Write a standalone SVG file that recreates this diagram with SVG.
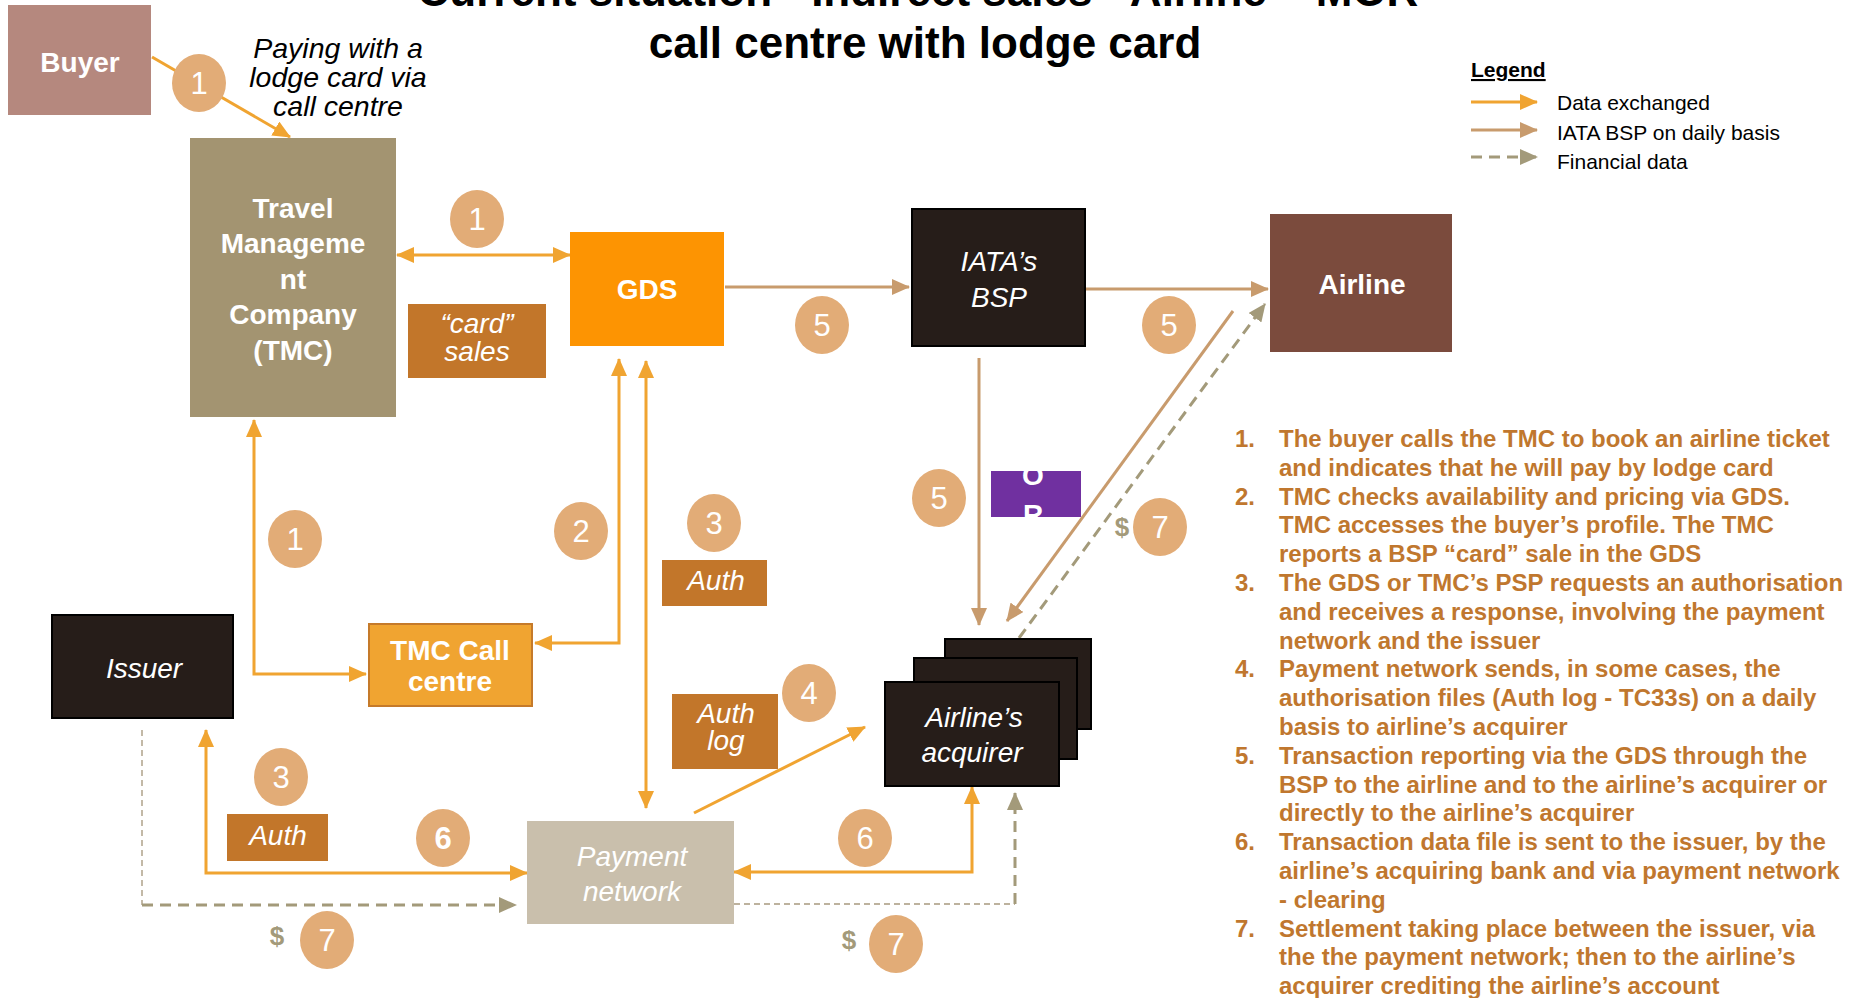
<svg xmlns="http://www.w3.org/2000/svg" width="1853" height="998" viewBox="0 0 1853 998">
<defs>
<style>
text{font-family:"Liberation Sans",Arial,sans-serif}
.wb{fill:#fff;font-weight:bold;font-size:28px;text-anchor:middle}
.wi{fill:#fff;font-style:italic;font-size:28px;text-anchor:middle}
.title{fill:#000;font-weight:bold;font-size:44px;text-anchor:middle}
.num{fill:#fff;font-size:31px;text-anchor:middle}
.circ{fill:#E2AC77}
.dol{fill:#A39A7A;font-weight:bold;font-size:26px;text-anchor:middle}
.o{fill:none;stroke:#F0A431;stroke-width:3}
.t{fill:none;stroke:#C89B6D;stroke-width:3}
.d{fill:none;stroke:#A39A7A;stroke-width:3;stroke-dasharray:11 7}
.dt{fill:none;stroke:#BDB29E;stroke-width:1.8;stroke-dasharray:6 4}
.lab{fill:#C2762A}
.leg{fill:#000;font-size:21px}
.list{fill:#C0772E;font-weight:bold;font-size:24px}
</style>
<marker id="aO" viewBox="0 0 18 16" refX="17" refY="8" markerWidth="18" markerHeight="16" markerUnits="userSpaceOnUse" orient="auto-start-reverse"><path d="M0,0 L18,8 L0,16 z" fill="#F0A431"/></marker>
<marker id="aT" viewBox="0 0 18 16" refX="17" refY="8" markerWidth="18" markerHeight="16" markerUnits="userSpaceOnUse" orient="auto-start-reverse"><path d="M0,0 L18,8 L0,16 z" fill="#C89B6D"/></marker>
<marker id="aD" viewBox="0 0 18 16" refX="17" refY="8" markerWidth="18" markerHeight="16" markerUnits="userSpaceOnUse" orient="auto-start-reverse"><path d="M0,0 L18,8 L0,16 z" fill="#A39A7A"/></marker>
<clipPath id="clipP"><rect x="991" y="471" width="90" height="46"/></clipPath>
</defs>
<rect width="1853" height="998" fill="#fff"/>

<g id="title">
<text class="title" x="918" y="6">Current situation - Indirect sales - Airline <tspan fill="#D9D9D9">–</tspan> MOR</text>
<text class="title" x="925" y="58">call centre with lodge card</text>
</g>

<g id="connectors">
<path class="o" d="M152,57 L290,137" marker-end="url(#aO)"/>
<path class="o" d="M397,255 L570,255" marker-start="url(#aO)" marker-end="url(#aO)"/>
<path class="t" d="M725,287 L909,287" marker-end="url(#aT)"/>
<path class="t" d="M1086,289 L1268,289" marker-end="url(#aT)"/>
<path class="t" d="M979,358 L979,625" marker-end="url(#aT)"/>
<path class="t" d="M1233,311 L1007,621" marker-end="url(#aT)"/>
<path class="d" d="M1019,638 L1265,304" marker-end="url(#aD)"/>
<path class="o" d="M254,420 L254,674 L366,674" marker-start="url(#aO)" marker-end="url(#aO)"/>
<path class="o" d="M619,359 L619,643 L535,643" marker-start="url(#aO)" marker-end="url(#aO)"/>
<path class="o" d="M646,361 L646,808" marker-start="url(#aO)" marker-end="url(#aO)"/>
<path class="o" d="M206,730 L206,873 L527,873" marker-start="url(#aO)" marker-end="url(#aO)"/>
<path class="o" d="M694,813 L865,727" marker-end="url(#aO)"/>
<path class="o" d="M972,787 L972,872 L734,872" marker-start="url(#aO)" marker-end="url(#aO)"/>
<path class="dt" d="M142,730 L142,905"/>
<path class="d" d="M142,905 L516,905" marker-end="url(#aD)"/>
<path class="dt" d="M734,904 L1015,904"/>
<path class="d" d="M1015,904 L1015,793" marker-end="url(#aD)"/>
</g>

<g id="buyer">
<rect x="8" y="5" width="143" height="110" fill="#B5887E"/>
<text class="wb" x="80" y="72">Buyer</text>
</g>
<g id="paying-note">
<text font-style="italic" font-size="28.5" text-anchor="middle" fill="#000"><tspan x="338" y="58">Paying with a</tspan><tspan x="338" y="87">lodge card via</tspan><tspan x="338" y="116">call centre</tspan></text>
</g>
<g id="tmc">
<rect x="190" y="138" width="206" height="279" fill="#A39471"/>
<text class="wb" font-size="29"><tspan x="293" y="218">Travel</tspan><tspan x="293" y="253">Manageme</tspan><tspan x="293" y="289">nt</tspan><tspan x="293" y="324">Company</tspan><tspan x="293" y="360">(TMC)</tspan></text>
</g>
<g id="card-sales">
<rect class="lab" x="408" y="304" width="138" height="74"/>
<text class="wi"><tspan x="477" y="333">“card”</tspan><tspan x="477" y="361">sales</tspan></text>
</g>
<g id="gds">
<rect x="570" y="232" width="154" height="114" fill="#FD9402"/>
<text class="wb" x="647" y="299">GDS</text>
</g>
<g id="bsp">
<rect x="912" y="209" width="173" height="137" fill="#261D19" stroke="#000" stroke-width="2"/>
<text class="wi"><tspan x="999" y="271">IATA’s</tspan><tspan x="999" y="307">BSP</tspan></text>
</g>
<g id="airline">
<rect x="1270" y="214" width="182" height="138" fill="#7B4B3D"/>
<text class="wb" x="1362" y="294">Airline</text>
</g>
<g id="purple">
<rect x="991" y="471" width="90" height="46" fill="#7030A0"/>
<g clip-path="url(#clipP)">
<text class="wb" font-size="26"><tspan x="1033" y="485">O</tspan><tspan x="1033" y="524">R</tspan></text>
</g>
</g>
<g id="issuer">
<rect x="52" y="615" width="181" height="103" fill="#261D19" stroke="#000" stroke-width="2"/>
<text class="wi" x="144" y="678">Issuer</text>
</g>
<g id="tmc-call-centre">
<rect x="369" y="624" width="163" height="82" fill="#F0A431" stroke="#C57A2A" stroke-width="2"/>
<text class="wb" font-size="27"><tspan x="450" y="660">TMC Call</tspan><tspan x="450" y="691">centre</tspan></text>
</g>
<g id="auth-upper">
<rect class="lab" x="662" y="560" width="105" height="46"/>
<text class="wi" font-size="27" x="716" y="590">Auth</text>
</g>
<g id="auth-log">
<rect class="lab" x="672" y="694" width="106" height="75"/>
<text class="wi" font-size="27"><tspan x="726" y="723">Auth</tspan><tspan x="726" y="750">log</tspan></text>
</g>
<g id="auth-lower">
<rect class="lab" x="227" y="814" width="101" height="47"/>
<text class="wi" font-size="27" x="278" y="845">Auth</text>
</g>
<g id="payment-network">
<rect x="527" y="821" width="207" height="103" fill="#C9BFAC"/>
<text class="wi"><tspan x="632" y="866">Payment</tspan><tspan x="632" y="901">network</tspan></text>
</g>
<g id="acquirer">
<rect x="945" y="639" width="146" height="90" fill="#261D19" stroke="#000" stroke-width="2"/>
<rect x="914" y="658" width="163" height="101" fill="#261D19" stroke="#000" stroke-width="2"/>
<rect x="885" y="682" width="174" height="104" fill="#261D19" stroke="#000" stroke-width="2"/>
<text class="wi" font-size="27"><tspan x="974" y="727">Airline’s</tspan><tspan x="972" y="762">acquirer</tspan></text>
</g>

<g id="step-labels">
<ellipse class="circ" cx="199" cy="83" rx="27" ry="29"/><text class="num" x="199" y="94">1</text>
<ellipse class="circ" cx="477" cy="219" rx="27" ry="29"/><text class="num" x="477" y="230">1</text>
<ellipse class="circ" cx="295" cy="539" rx="27" ry="29"/><text class="num" x="295" y="550">1</text>
<ellipse class="circ" cx="581" cy="531" rx="27" ry="29"/><text class="num" x="581" y="542">2</text>
<ellipse class="circ" cx="714" cy="523" rx="27" ry="29"/><text class="num" x="714" y="534">3</text>
<ellipse class="circ" cx="281" cy="777" rx="27" ry="29"/><text class="num" x="281" y="788">3</text>
<ellipse class="circ" cx="809" cy="693" rx="27" ry="29"/><text class="num" x="809" y="704">4</text>
<ellipse class="circ" cx="822" cy="325" rx="27" ry="29"/><text class="num" x="822" y="336">5</text>
<ellipse class="circ" cx="1169" cy="325" rx="27" ry="29"/><text class="num" x="1169" y="336">5</text>
<ellipse class="circ" cx="939" cy="498" rx="27" ry="29"/><text class="num" x="939" y="509">5</text>
<ellipse class="circ" cx="443" cy="838" rx="27" ry="29"/><text class="num" font-weight="bold" x="443" y="849">6</text>
<ellipse class="circ" cx="865" cy="838" rx="27" ry="29"/><text class="num" x="865" y="849">6</text>
<ellipse class="circ" cx="327" cy="940" rx="27" ry="29"/><text class="num" x="327" y="951">7</text>
<ellipse class="circ" cx="896" cy="944" rx="27" ry="29"/><text class="num" x="896" y="955">7</text>
<ellipse class="circ" cx="1160" cy="527" rx="27" ry="29"/><text class="num" x="1160" y="538">7</text>
<text class="dol" x="277" y="945">$</text>
<text class="dol" x="849" y="949">$</text>
<text class="dol" x="1122" y="536">$</text>
</g>

<g id="legend">
<text class="leg" font-weight="bold" font-size="20" x="1471" y="77" text-decoration="underline">Legend</text>
<path class="o" d="M1471,102 L1537,102" marker-end="url(#aO)"/>
<path class="t" d="M1471,130 L1537,130" marker-end="url(#aT)"/>
<path class="d" d="M1471,157 L1537,157" marker-end="url(#aD)"/>
<text class="leg" x="1557" y="110">Data exchanged</text>
<text class="leg" x="1557" y="140">IATA BSP on daily basis</text>
<text class="leg" x="1557" y="169">Financial data</text>
</g>

<g id="steps-list">
<text class="list">
<tspan x="1235" y="447">1.</tspan><tspan x="1279" y="447">The buyer calls the TMC to book an airline ticket</tspan>
<tspan x="1279" y="475.8">and indicates that he will pay by lodge card</tspan>
<tspan x="1235" y="504.6">2.</tspan><tspan x="1279" y="504.6">TMC checks availability and pricing via GDS.</tspan>
<tspan x="1279" y="533.4">TMC accesses the buyer’s profile. The TMC</tspan>
<tspan x="1279" y="562.2">reports a BSP “card” sale in the GDS</tspan>
<tspan x="1235" y="591">3.</tspan><tspan x="1279" y="591">The GDS or TMC’s PSP requests an authorisation</tspan>
<tspan x="1279" y="619.8">and receives a response, involving the payment</tspan>
<tspan x="1279" y="648.6">network and the issuer</tspan>
<tspan x="1235" y="677.4">4.</tspan><tspan x="1279" y="677.4">Payment network sends, in some cases, the</tspan>
<tspan x="1279" y="706.2">authorisation files (Auth log - TC33s) on a daily</tspan>
<tspan x="1279" y="735">basis to airline’s acquirer</tspan>
<tspan x="1235" y="763.8">5.</tspan><tspan x="1279" y="763.8">Transaction reporting via the GDS through the</tspan>
<tspan x="1279" y="792.6">BSP to the airline and to the airline’s acquirer or</tspan>
<tspan x="1279" y="821.4">directly to the airline’s acquirer</tspan>
<tspan x="1235" y="850.2">6.</tspan><tspan x="1279" y="850.2">Transaction data file is sent to the issuer, by the</tspan>
<tspan x="1279" y="879">airline’s acquiring bank and via payment network</tspan>
<tspan x="1279" y="907.8">- clearing</tspan>
<tspan x="1235" y="936.6">7.</tspan><tspan x="1279" y="936.6">Settlement taking place between the issuer, via</tspan>
<tspan x="1279" y="965.4">the the payment network; then to the airline’s</tspan>
<tspan x="1279" y="994.2">acquirer crediting the airline’s account</tspan>
</text>
</g>
</svg>
